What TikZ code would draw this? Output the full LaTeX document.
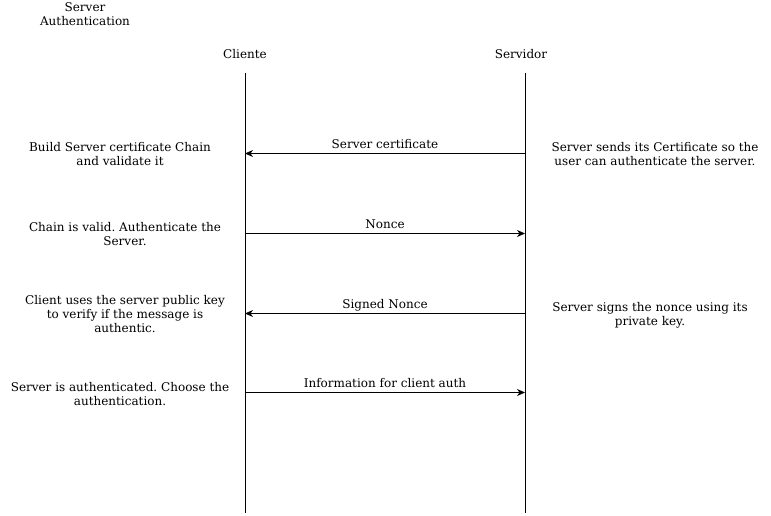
\documentclass[tikz,border=0pt]{standalone}
\usepackage{fontspec}
\setmainfont{DejaVu Serif}
\usetikzlibrary{arrows.meta}
\frenchspacing
\tikzset{
	note/.style={align=center, inner sep=1pt, font=\fontsize{12}{14}\selectfont},
	msg/.style={-{Stealth[length=8pt, width=7pt, inset=2.5pt]}, line width=0.8pt},
	lbl/.style={above, inner sep=2pt, text height=9pt, text depth=3pt, font=\fontsize{12}{14}\selectfont},
	life/.style={line width=0.8pt}
}
\begin{document}
\begin{tikzpicture}[x=1pt, y=-1pt]
		\useasboundingbox (0,0) rectangle (771,516);
		% Title
		\node[note] (title) at (85,14.5) {Server\\Authentication};
		
		% Lifelines
		\node[note] (cli) at (245,54) {Cliente};
		\node[note] (srv) at (521,54) {Servidor};
		\coordinate (cliTop) at (245,73);
		\coordinate (cliBot) at (245,513);
		\coordinate (srvTop) at (525,73);
		\coordinate (srvBot) at (525,513);
		\draw[life] (cliTop) -- (cliBot);
		\draw[life] (srvTop) -- (srvBot);
		
		% Message points on the lifelines
		\coordinate (c1) at (245,153.5);
		\coordinate (s1) at (525,153.5);
		\coordinate (c2) at (245,233.5);
		\coordinate (s2) at (525,233.5);
		\coordinate (c3) at (245,313.5);
		\coordinate (s3) at (525,313.5);
		\coordinate (c4) at (245,392.5);
		\coordinate (s4) at (525,392.5);
		
		% Messages
		\draw[msg] (s1) -- node[lbl] (m1) {Server certificate} (c1);
		\draw[msg] (c2) -- node[lbl] (m2) {Nonce} (s2);
		\draw[msg] (s3) -- node[lbl] (m3) {Signed Nonce} (c3);
		\draw[msg] (c4) -- node[lbl] (m4) {Information for client auth} (s4);
		
		% Client side notes
		\node[note] (n1) at (120,154) {Build Server certificate Chain\\and validate it};
		\node[note] (n2) at (125,234) {Chain is valid. Authenticate the\\Server.};
		\node[note] (n3) at (125,314.5) {Client uses the server public key\\to verify if the message is\\authentic.};
		\node[note] (n4) at (120,394) {Server is authenticated. Choose the\\authentication.};
		
		% Server side notes
		\node[note] (n5) at (655,154) {Server sends its Certificate so the\\user can authenticate the server.};
		\node[note] (n6) at (650,315.5) {Server signs the nonce using its\\private key.};
	\end{tikzpicture}
\end{document}
